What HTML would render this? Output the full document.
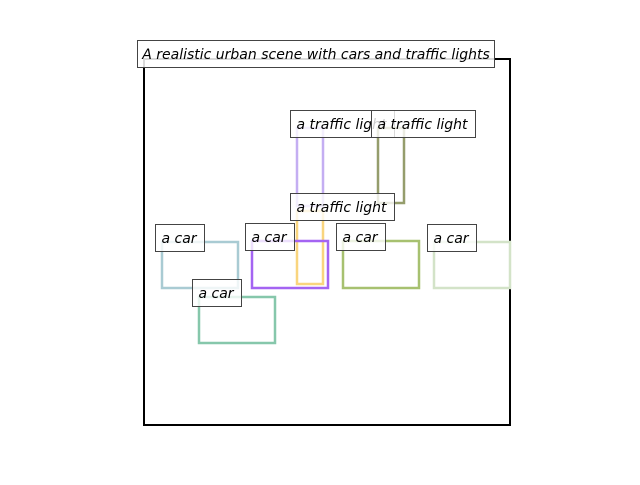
<!DOCTYPE html>
<html><head><meta charset="utf-8"><style>
html,body{margin:0;padding:0;background:#fff;}
svg text{font-family:"DejaVu Sans","Liberation Sans",sans-serif;font-style:italic;font-size:14px;}
</style></head><body>
<svg id="chart" width="640" height="480">
<rect x="144" y="59" width="366" height="366" fill="none" stroke="#000" stroke-width="2"/>
<g id="marks"></g>
<g>
<rect x="137.5" y="40.5" width="357" height="27" fill="#fff" fill-opacity="0.85" stroke="#444"/>
<text x="316" y="59" text-anchor="middle">A realistic urban scene with cars and traffic lights</text>
</g>
</svg>
<script>
const labels=["a traffic light","a traffic light","a traffic light","a car","a car","a car","a car","a car"];
const boxX=[153,234,153,18,108,199,290,55];
const boxY=[69,69,152,183,182,182,183,238];
const boxW=[26,26,26,76,76,76,76,76];
const boxH=[78,75,73,46,47,47,46,46];
const colors=["#c4aef2","#959d6c","#f9d57e","#a9cbd3","#a464f2","#a7c170","#d3e3c8","#86c7ab"];
const X0=144,Y0=59;
const sx=v=>X0+v, sy=v=>Y0+v;
const g=document.getElementById('marks');
const ns="http://www.w3.org/2000/svg";
for(let i=0;i<labels.length;i++){
  const r=document.createElementNS(ns,'rect');
  r.setAttribute('x',sx(boxX[i]));r.setAttribute('y',sy(boxY[i]));
  r.setAttribute('width',boxW[i]);r.setAttribute('height',boxH[i]);
  r.setAttribute('fill','none');r.setAttribute('stroke',colors[i]);r.setAttribute('stroke-width','2.5');
  
  
  g.appendChild(r);
  const lg=document.createElementNS(ns,'g');
  
  
  const t=document.createElementNS(ns,'text');
  t.setAttribute('x',sx(boxX[i])-0.5);t.setAttribute('y',sy(boxY[i])+1);
  t.textContent=labels[i];
  const bg=document.createElementNS(ns,'rect');
  lg.appendChild(bg);lg.appendChild(t);g.appendChild(lg);
  const bb=t.getBBox();
  bg.setAttribute('x',Math.round(sx(boxX[i])-7)+0.5);bg.setAttribute('y',Math.round(sy(boxY[i])-18)+0.5);
  bg.setAttribute('width',Math.round(bb.width+13));bg.setAttribute('height',27);
  bg.setAttribute('fill','#fff');bg.setAttribute('fill-opacity','0.8');bg.setAttribute('stroke','#444');
}
</script>
</body></html>
